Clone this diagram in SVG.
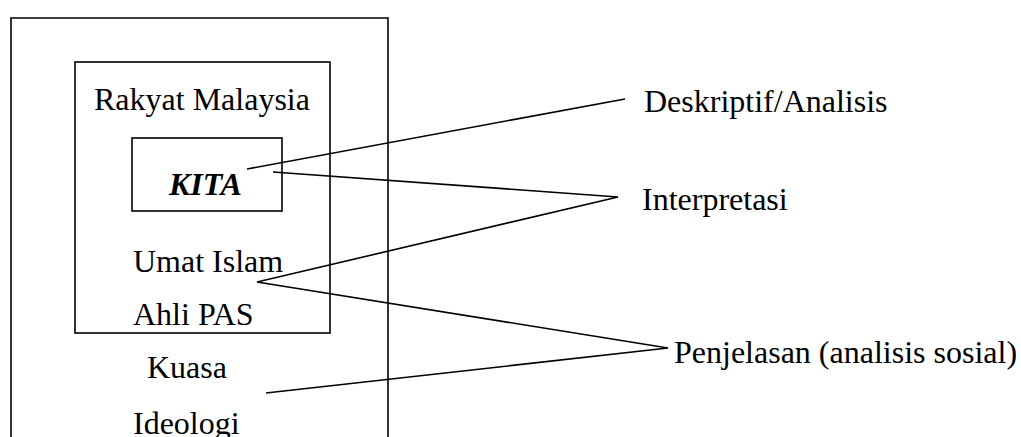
<svg xmlns="http://www.w3.org/2000/svg" width="1021" height="437" viewBox="0 0 1021 437">
<style>
.box{fill:none;stroke:#000;stroke-width:1.6}
.ln{stroke:#000;stroke-width:1.6;fill:none}
text{font-family:"Liberation Serif","Times New Roman",serif;font-size:32px;fill:#000}
.kita{font-weight:bold;font-style:italic}
</style>
<rect width="1021" height="437" fill="#fff"/>
<g id="outer"><path class="box" d="M11,440 V18 H388 V440"/></g>
<g id="rakyat">
<rect class="box" x="75" y="62" width="255" height="271"/>
<text x="94" y="110">Rakyat Malaysia</text>
</g>
<g id="kita">
<rect class="box" x="132" y="138" width="150" height="73"/>
<text class="kita" x="169" y="195">KITA</text>
</g>
<g id="umat"><text x="133" y="272">Umat Islam</text></g>
<g id="ahli"><text x="133" y="325">Ahli PAS</text></g>
<g id="kuasa"><text x="147" y="378">Kuasa</text></g>
<g id="ideologi"><text x="133" y="434">Ideologi</text></g>
<g id="deskriptif"><text x="644" y="112">Deskriptif/Analisis</text></g>
<g id="interpretasi"><text x="642" y="210">Interpretasi</text></g>
<g id="penjelasan"><text x="674" y="363">Penjelasan (analisis sosial)</text></g>
<g id="connectors">
<line class="ln" x1="247" y1="169" x2="625" y2="99"/>
<polyline class="ln" points="273,172 618,197 257,282 668,348 266,393"/>
</g>
</svg>
